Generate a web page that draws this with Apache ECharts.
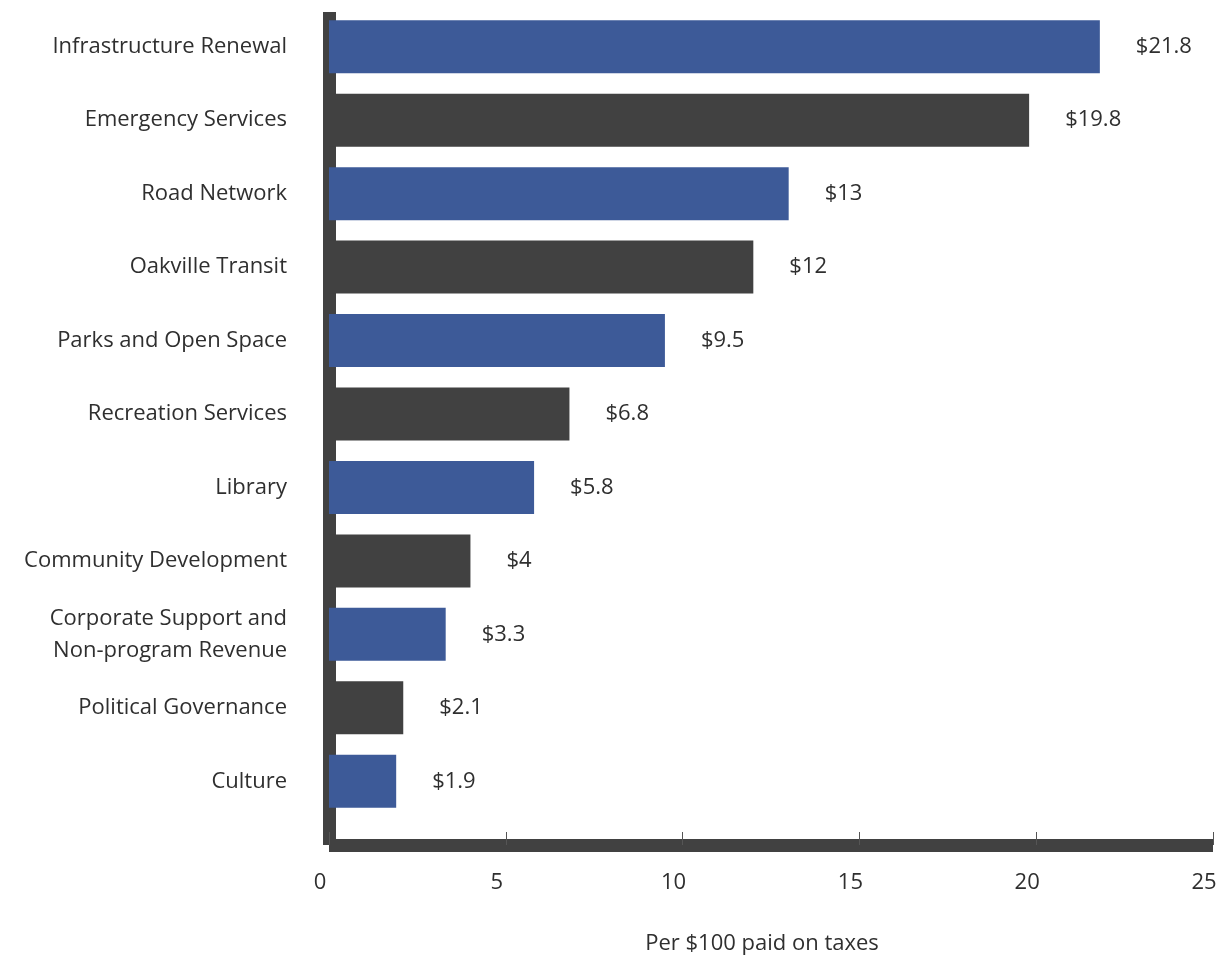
<!DOCTYPE html>
<html>
<head>
<meta charset="utf-8">
<script src="https://cdn.jsdelivr.net/npm/echarts@6/dist/echarts.min.js"></script>
<style>
  html, body { margin: 0; padding: 0; background: #fff; }
  #chart { width: 1220px; height: 959px; }
</style>
</head>
<body>
<div id="chart"></div>
<script>
// per $100 of taxes, top to bottom as shown
const categories = [
  'Infrastructure Renewal',
  'Emergency Services',
  'Road Network',
  'Oakville Transit',
  'Parks and Open Space',
  'Recreation Services',
  'Library',
  'Community Development',
  'Corporate Support and\nNon-program Revenue',
  'Political Governance',
  'Culture'
]
const amounts = [21.8, 19.8, 13, 12, 9.5, 6.8, 5.8, 4, 3.3, 2.1, 1.9]
const xTicks = [0, 5, 10, 15, 20, 25]
const xName = 'Per $100 paid on taxes'

const BLUE = '#3d5a98'
const DARK = '#414141'
const TEXT = '#2f2f2f'
const FONT = '"Open Sans", "Noto Sans", sans-serif'
const FS = 22

const chart = echarts.init(document.getElementById('chart'))

const option = {
  animation: false,
  textStyle: { fontFamily: FONT },
  grid: [
    // bars
    { left: 329, right: 7, top: 10, height: 808, outerBoundsMode: 'none', containLabel: false },
    // axis frame
    { left: 329, right: 7, top: 12, bottom: 114, outerBoundsMode: 'none', containLabel: false }
  ],
  xAxis: [
    {
      gridIndex: 0,
      type: 'value',
      min: xTicks[0],
      max: xTicks[xTicks.length - 1],
      show: false
    },
    {
      gridIndex: 1,
      type: 'value',
      min: xTicks[0],
      max: xTicks[xTicks.length - 1],
      interval: 5,
      name: xName,
      nameLocation: 'middle',
      nameGap: 88,
      nameTextStyle: { fontSize: FS, color: TEXT, fontFamily: FONT, padding: [0, 18, 0, 0] },
      axisLine: { onZero: false, lineStyle: { color: DARK, width: 13, cap: 'butt' } },
      axisTick: { inside: true, length: 13, lineStyle: { color: '#555', width: 1 } },
      axisLabel: {
        margin: 27,
        fontSize: FS,
        color: TEXT,
        fontFamily: FONT,
        padding: [0, 18, 0, 0]
      },
      splitLine: { show: false }
    }
  ],
  yAxis: [
    {
      gridIndex: 0,
      type: 'category',
      inverse: true,
      data: categories,
      axisLine: { show: false },
      axisTick: { show: false },
      axisLabel: {
        margin: 42,
        fontSize: FS,
        lineHeight: 32,
        color: TEXT,
        fontFamily: FONT,
        padding: [4, 0, 0, 0]
      }
    },
    {
      gridIndex: 1,
      type: 'value',
      min: 0,
      max: 1,
      axisLine: { show: true, onZero: false, lineStyle: { color: DARK, width: 13, cap: 'butt' } },
      axisTick: { show: false },
      axisLabel: { show: false },
      splitLine: { show: false }
    }
  ],
  series: [
    {
      type: 'bar',
      xAxisIndex: 0,
      yAxisIndex: 0,
      data: amounts,
      barWidth: 53,
      itemStyle: {
        color: p => (p.dataIndex % 2 === 0 ? BLUE : DARK)
      },
      label: {
        show: true,
        position: 'right',
        distance: 36,
        fontSize: FS,
        color: TEXT,
        fontFamily: FONT,
        formatter: p => '$' + p.value
      }
    }
  ]
}

chart.setOption(option)
</script>
</body>
</html>
